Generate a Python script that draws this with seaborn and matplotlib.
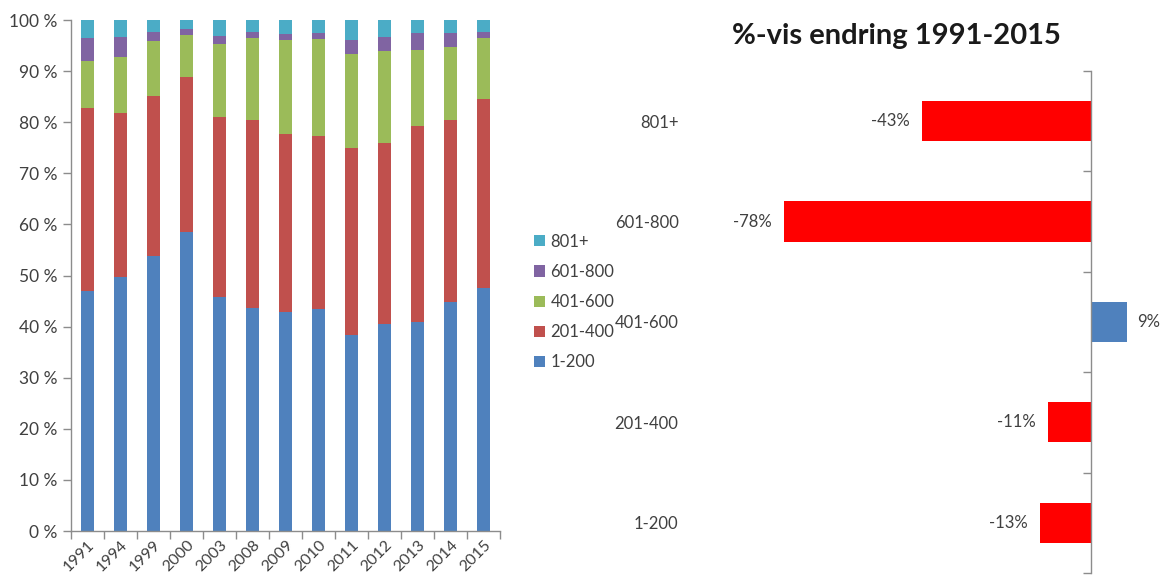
import numpy as np
import pandas as pd
import seaborn as sns
import matplotlib.pyplot as plt
from matplotlib.patches import Patch

# ----------------------------
# DATA
# ----------------------------
years = ["1991", "1994", "1999", "2000", "2003", "2008", "2009",
         "2010", "2011", "2012", "2013", "2014", "2015"]

# share of each size group per year (%)
share_1_200 = [47.0, 49.7, 53.8, 58.5, 45.8, 43.7, 42.9, 43.4, 38.4, 40.5, 41.0, 44.8, 47.6]
share_201_400 = [35.7, 32.2, 31.3, 30.3, 35.2, 36.7, 34.7, 34.0, 36.6, 35.4, 38.2, 35.6, 36.9]
share_401_600 = [9.3, 10.8, 10.8, 8.3, 14.3, 16.1, 18.4, 18.9, 18.3, 18.0, 14.9, 14.3, 12.0]
share_601_800 = [4.5, 4.0, 1.8, 1.2, 1.6, 1.2, 1.3, 1.1, 2.8, 2.8, 3.3, 2.8, 1.2]
share_801 = [3.5, 3.3, 2.3, 1.7, 3.1, 2.3, 2.7, 2.6, 3.9, 3.3, 2.6, 2.5, 2.3]

size_groups = ["1-200", "201-400", "401-600", "601-800", "801+"]
group_colors = ["#4F81BD", "#C0504D", "#9BBB59", "#8064A2", "#4BACC6"]

change_groups = ["801+", "601-800", "401-600", "201-400", "1-200"]
change_pct = [-43, -78, 9, -11, -13]

TXT = "#404040"
AX = "#8c8c8c"

sns.set_theme(style="white")
plt.rcParams["font.family"] = ["Lato", "DejaVu Sans"]

fig = plt.figure(figsize=(11.63, 5.77), dpi=100)

# ----------------------------
# 1. STACKED SHARE BY YEAR
# ----------------------------
ax1 = fig.add_axes([0.061, 0.0797, 0.369, 0.8856])

df = pd.DataFrame({
    "year": years,
    "1-200": share_1_200,
    "201-400": share_201_400,
    "401-600": share_401_600,
    "601-800": share_601_800,
    "801+": share_801,
})
cum = df[size_groups].cumsum(axis=1)
cum = cum.div(cum["801+"], axis=0)  # normalise to 100 %

# draw tallest cumulative first so lower segments sit on top
for grp, col in reversed(list(zip(size_groups, group_colors))):
    sns.barplot(x=df["year"], y=cum[grp], color=col, width=0.4,
                saturation=1, linewidth=0, ax=ax1)

ax1.set_ylim(0, 1)
ax1.set_xlim(-0.5, len(years) - 0.5)
ax1.set_yticks(np.arange(0, 1.01, 0.1))
ax1.set_yticklabels([f"{int(round(v * 100))} %" for v in np.arange(0, 1.01, 0.1)],
                    fontsize=12.5, color=TXT)
ax1.set_xticks(range(len(years)))
ax1.set_xticklabels(years, rotation=45, ha="right", rotation_mode="anchor",
                    fontsize=11.5, color=TXT)
ax1.set_xticks(np.arange(-0.5, len(years), 1), minor=True)
ax1.tick_params(axis="x", which="major", length=0, pad=5)
ax1.tick_params(axis="x", which="minor", bottom=True, length=6, color=AX, width=1)
ax1.tick_params(axis="y", left=True, length=6, color=AX, width=1, pad=4)
ax1.set_xlabel("")
ax1.set_ylabel("")
for s in ["top", "right"]:
    ax1.spines[s].set_visible(False)
for s in ["left", "bottom"]:
    ax1.spines[s].set_color(AX)
    ax1.spines[s].set_linewidth(1)

handles = [Patch(facecolor=c, edgecolor="none") for c in group_colors]
fig.legend(handles[::-1], size_groups[::-1], loc="upper left",
           bbox_to_anchor=(0.446, 0.621), frameon=False, fontsize=12,
           handlelength=0.65, handleheight=0.65, handletextpad=0.35,
           labelspacing=0.85, labelcolor=TXT)

# ----------------------------
# 2. PERCENT CHANGE 1991-2015
# ----------------------------
ax2 = fig.add_axes([0.593, 0.007, 0.404, 0.870])
df2 = pd.DataFrame({"group": change_groups, "pct": change_pct})
bar_pal = {g: ("#FF0000" if v < 0 else "#4F81BD") for g, v in zip(change_groups, change_pct)}
sns.barplot(data=df2, x="pct", y="group", hue="group", palette=bar_pal,
            legend=False, width=0.4, saturation=1, linewidth=0, ax=ax2)

ax2.set_xlim(-102, 17.3)
ax2.set_ylim(len(change_groups) - 0.5, -0.5)
ax2.set_xlabel("")
ax2.set_ylabel("")
ax2.set_xticks([])
for s in ["top", "bottom", "left"]:
    ax2.spines[s].set_visible(False)
ax2.spines["right"].set_position(("data", 0))
ax2.spines["right"].set_color(AX)
ax2.spines["right"].set_linewidth(1)
ax2.set_yticks(np.arange(-0.5, len(change_groups), 1), minor=True)
ax2.tick_params(axis="y", which="major", left=True, right=False, length=0,
                labelleft=True, labelsize=12, labelcolor=TXT, pad=8)
ax2.tick_params(axis="y", which="minor", left=False, right=True, direction="in",
                length=6, color=AX, width=1)

for i, v in enumerate(change_pct):
    if v < 0:
        ax2.text(v - 3.2, i, f"{v}%", ha="right", va="center", fontsize=12, color=TXT)
    else:
        ax2.text(v + 2.5, i, f"{v}%", ha="left", va="center", fontsize=12, color=TXT)

fig.text(0.771, 0.937, "%-vis endring 1991-2015", ha="center", va="center",
         fontsize=21, fontweight="bold", color="#1a1a1a")

fig.savefig("out.png", dpi=100)
